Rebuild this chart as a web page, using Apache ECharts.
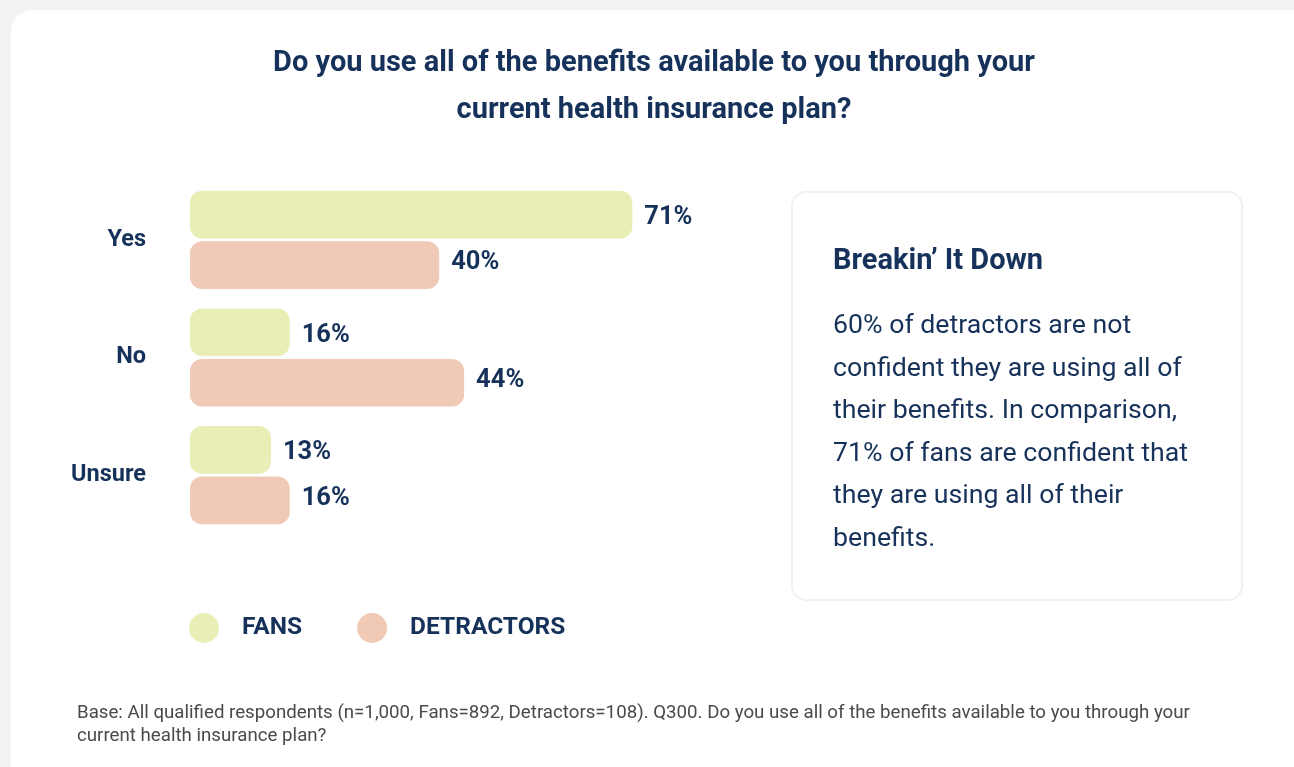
<!DOCTYPE html>
<html>
<head>
<meta charset="utf-8">
<script src="https://cdn.jsdelivr.net/npm/echarts@6/dist/echarts.min.js"></script>
<style>
html,body{margin:0;padding:0;background:#f5f3f2;}
#chart{width:1294px;height:767px;}
</style>
</head>
<body>
<div id="chart"></div>
<script>
const categories = ['Yes', 'No', 'Unsure'];
const fansValues = [71, 16, 13];
const detractorValues = [40, 44, 16];
const seriesNames = ['FANS', 'DETRACTORS'];
const titleLines = ['Do you use all of the benefits available to you through your', 'current health insurance plan?'];
const boxHeading = 'Breakin\u2019 It Down';
const boxLines = ['60% of detractors are not', 'confident they are using all of', 'their benefits. In comparison,', '71% of fans are confident that', 'they are using all of their', 'benefits.'];
const footLines = ['Base: All qualified respondents (n=1,000, Fans=892, Detractors=108). Q300. Do you use all of the benefits available to you through your', 'current health insurance plan?'];

const NAVY = '#17325a';
const FAN = '#e8eeb6';
const DET = '#f0cab7';
const FONT = 'Roboto, "Noto Sans", sans-serif';

const chart = echarts.init(document.getElementById('chart'));
function labelStyle(dy) {
  return {
    show: true, position: 'right', distance: 12, offset: [0, dy],
    formatter: p => p.value + '%',
    color: NAVY, fontSize: 25.5, fontWeight: 'bold', fontFamily: FONT
  };
}
chart.setOption({
  animation: false,
  backgroundColor: '#f5f3f2',
  title: {
    text: titleLines.join('\n'),
    left: 649, top: 35.5, textAlign: 'center',
    textStyle: { color: NAVY, fontSize: 29, fontWeight: 'bold', fontFamily: FONT, lineHeight: 47 }
  },
  legend: {
    data: seriesNames.map(n => ({ name: n, icon: 'circle' })),
    left: 189, top: 613, padding: 0,
    itemWidth: 30, itemHeight: 30, itemGap: 55,
    textStyle: { color: NAVY, fontSize: 24.5, fontWeight: 'bold', fontFamily: FONT, padding: [2, 0, 0, 18] }
  },
  grid: { left: 190, top: 181, width: 623, height: 353, containLabel: false },
  xAxis: { type: 'value', min: 0, max: 100, show: false },
  yAxis: {
    type: 'category', data: categories, inverse: true,
    axisLine: { show: false }, axisTick: { show: false },
    axisLabel: { margin: 44, color: NAVY, fontSize: 23.5, fontWeight: 'bold', fontFamily: FONT, padding: [3, 0, 0, 0] }
  },
  graphic: [
    { type: 'rect', z: -10, shape: { x: 11, y: 10, width: 1310, height: 800, r: 22 }, style: { fill: '#ffffff' } },
    { type: 'rect', z: -5, shape: { x: 792, y: 192, width: 450, height: 408, r: 14 }, style: { fill: '#ffffff', stroke: '#f2efee', lineWidth: 2 } },
    { type: 'text', left: 833, top: 247, style: { text: boxHeading, fill: NAVY, font: 'bold 29px ' + FONT } },
    { type: 'text', left: 833, top: 305, style: { text: boxLines.join('\n'), fill: NAVY, fontSize: 26.7, fontFamily: FONT, lineHeight: 42.6 } },
    { type: 'text', left: 77, top: 702, style: { text: footLines.join('\n'), fill: '#4a4a4a', fontSize: 18.7, fontFamily: FONT, lineHeight: 23 } }
  ],
  series: [
    { name: seriesNames[0], type: 'bar', data: fansValues, barGap: '6%', barCategoryGap: '16.6%',
      itemStyle: { color: FAN, borderRadius: 12 }, label: labelStyle(3) },
    { name: seriesNames[1], type: 'bar', data: detractorValues,
      itemStyle: { color: DET, borderRadius: 12 }, label: labelStyle(-2) }
  ]
});
</script>
</body>
</html>
